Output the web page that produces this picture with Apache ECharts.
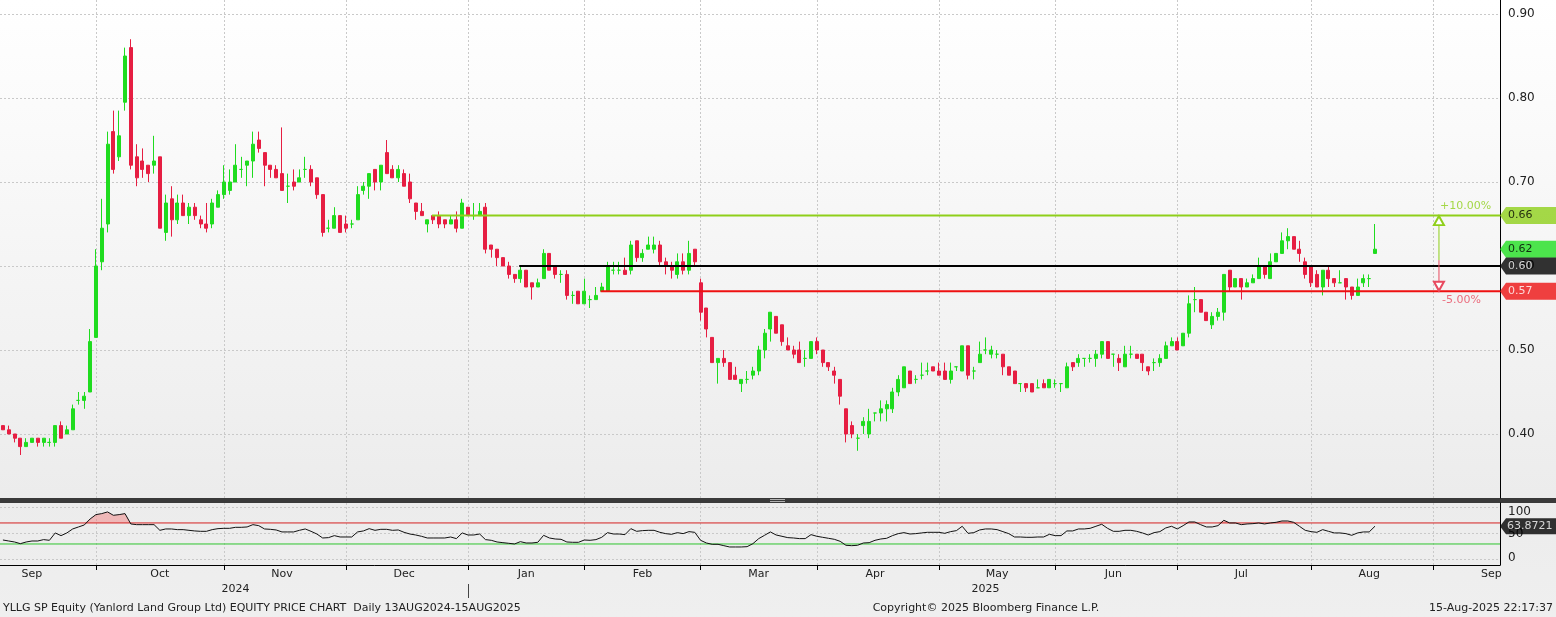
<!DOCTYPE html>
<html>
<head>
<meta charset="utf-8">
<script src="https://cdn.jsdelivr.net/npm/echarts@6/dist/echarts.min.js"></script>
<style>
html, body { margin: 0; padding: 0; }
#chart { width: 1556px; height: 617px; }
</style>
</head>
<body>
<div id="chart"></div>
<script>
// daily candles, one array per month: [open, high, low, close]
const sep24 = [
  [.41,.41,.405,.405],[.405,.41,.40,.40],[.40,.40,.39,.395],[.395,.395,.375,.385],[.385,.395,.385,.39],
  [.39,.395,.39,.395],[.395,.395,.385,.39],[.39,.395,.385,.395],[.39,.395,.385,.39],[.39,.41,.385,.41],
  [.41,.415,.395,.395],[.40,.41,.40,.405],[.405,.435,.405,.43],[.44,.45,.435,.44],[.44,.45,.43,.445],
  [.45,.525,.45,.51],[.515,.62,.515,.60]
];
const oct24 = [
  [.605,.68,.595,.645],[.65,.76,.64,.745],[.76,.785,.71,.715],[.73,.785,.725,.755],[.795,.86,.785,.85],
  [.86,.87,.715,.72],[.73,.745,.695,.705],[.725,.74,.705,.715],[.72,.72,.70,.71],[.72,.755,.71,.725],
  [.73,.73,.645,.645],[.64,.685,.63,.675],[.68,.695,.635,.655],[.655,.685,.65,.675],[.675,.685,.66,.66],
  [.66,.675,.65,.67],[.67,.675,.655,.66],[.655,.66,.645,.65],[.65,.675,.64,.645],[.65,.68,.645,.675],
  [.67,.69,.67,.685],[.685,.72,.68,.70]
];
const nov24 = [
  [.69,.715,.685,.70],[.70,.745,.70,.72],[.715,.73,.705,.715],[.72,.725,.695,.725],[.725,.76,.705,.745],
  [.75,.76,.735,.74],[.735,.735,.695,.72],[.72,.72,.705,.715],[.715,.72,.705,.705],[.71,.765,.69,.69],
  [.695,.71,.675,.695],[.70,.715,.69,.695],[.70,.715,.70,.705],[.715,.73,.705,.715],[.715,.72,.695,.70],
  [.705,.705,.68,.685],[.685,.685,.635,.64],[.645,.655,.64,.645],[.645,.67,.645,.66],[.66,.66,.64,.64],
  [.65,.66,.64,.645]
];
const dec24 = [
  [.65,.655,.645,.65],[.655,.695,.655,.685],[.69,.70,.685,.695],[.695,.71,.68,.71],[.715,.715,.69,.70],
  [.70,.72,.69,.72],[.735,.75,.71,.71],[.715,.72,.705,.705],[.705,.72,.70,.715],[.71,.715,.695,.695],
  [.70,.71,.675,.68],[.675,.675,.655,.665],[.665,.675,.66,.66],[.65,.655,.64,.655],[.66,.66,.65,.655],
  [.66,.665,.645,.65],[.655,.655,.645,.65],[.65,.66,.65,.655],[.655,.665,.64,.645],[.645,.68,.645,.675],
  [.67,.67,.66,.66]
];
const jan25 = [
  [.66,.675,.655,.66],[.66,.675,.66,.665],[.67,.675,.615,.62],[.625,.625,.61,.62],[.62,.62,.60,.61],
  [.61,.61,.60,.60],[.60,.605,.585,.59],[.59,.59,.58,.585],[.585,.60,.58,.595],[.595,.595,.575,.575],
  [.58,.58,.56,.575],[.575,.585,.575,.58],[.585,.62,.585,.615],[.615,.615,.595,.595],[.60,.60,.585,.59],
  [.59,.595,.58,.59],[.59,.595,.56,.565],[.565,.57,.555,.565],[.57,.57,.555,.555],[.555,.585,.555,.57]
];
const feb25 = [
  [.56,.565,.55,.56],[.56,.575,.56,.565],[.57,.58,.57,.575],[.57,.605,.57,.60],[.595,.605,.59,.595],
  [.595,.605,.59,.595],[.595,.61,.59,.59],[.595,.63,.59,.625],[.63,.63,.605,.61],[.61,.62,.605,.615],
  [.62,.635,.62,.625],[.62,.635,.615,.625],[.625,.63,.60,.605],[.605,.61,.59,.60],[.60,.605,.585,.595],
  [.59,.615,.585,.605],[.605,.615,.59,.595],[.595,.63,.59,.615],[.62,.62,.60,.605],[.58,.585,.535,.545]
];
const mar25 = [
  [.55,.55,.515,.525],[.515,.515,.485,.485],[.485,.49,.46,.49],[.49,.50,.48,.485],[.485,.485,.465,.465],
  [.47,.48,.465,.465],[.46,.465,.45,.465],[.465,.475,.46,.465],[.47,.48,.465,.475],[.475,.505,.47,.50],
  [.50,.525,.49,.52],[.525,.545,.51,.545],[.54,.54,.52,.52],[.53,.53,.505,.51],[.505,.515,.50,.50],
  [.50,.505,.49,.495],[.50,.51,.485,.485],[.49,.50,.48,.49],[.49,.51,.49,.51],[.51,.515,.495,.50]
];
const apr25 = [
  [.50,.50,.48,.485],[.485,.485,.475,.48],[.475,.48,.46,.47],[.465,.465,.435,.445],[.43,.43,.39,.40],
  [.41,.415,.395,.40],[.395,.40,.38,.395],[.41,.42,.40,.415],[.40,.43,.395,.415],[.425,.425,.415,.425],
  [.425,.44,.415,.43],[.43,.44,.415,.435],[.43,.455,.425,.45],[.45,.47,.445,.465],[.455,.48,.455,.48],
  [.475,.475,.46,.46],[.465,.47,.46,.465],[.47,.485,.465,.47],[.475,.485,.47,.475],[.48,.48,.475,.475],
  [.475,.485,.47,.47]
];
const may25 = [
  [.475,.485,.465,.465],[.465,.485,.46,.475],[.48,.48,.475,.48],[.475,.505,.475,.505],[.505,.505,.465,.47],
  [.475,.48,.465,.475],[.485,.51,.485,.495],[.50,.515,.495,.50],[.495,.505,.49,.50],[.495,.50,.49,.495],
  [.495,.495,.47,.48],[.48,.48,.47,.47],[.475,.475,.46,.46],[.46,.46,.45,.46],[.46,.46,.45,.455],
  [.46,.46,.45,.45],[.455,.465,.455,.455],[.46,.465,.455,.455],[.455,.465,.455,.465],[.46,.465,.455,.46]
];
const jun25 = [
  [.46,.46,.45,.46],[.455,.485,.455,.48],[.485,.485,.475,.48],[.485,.495,.48,.49],[.49,.49,.48,.49],
  [.49,.495,.485,.49],[.49,.50,.48,.495],[.495,.51,.49,.51],[.51,.51,.49,.49],[.495,.495,.48,.495],
  [.49,.495,.475,.485],[.48,.505,.48,.495],[.495,.505,.49,.495],[.495,.495,.49,.49],[.495,.495,.475,.485],
  [.48,.48,.47,.475],[.485,.49,.475,.485],[.485,.495,.48,.49],[.49,.51,.49,.505],[.505,.515,.505,.51],
  [.51,.515,.50,.50]
];
const jul25 = [
  [.505,.52,.505,.52],[.52,.565,.515,.555],[.56,.575,.545,.56],[.56,.56,.545,.545],[.545,.545,.535,.535],
  [.53,.545,.525,.54],[.54,.55,.535,.545],[.545,.59,.535,.59],[.595,.595,.57,.575],[.575,.585,.575,.585],
  [.585,.585,.56,.575],[.575,.585,.575,.58],[.58,.59,.58,.585],[.585,.61,.585,.60],[.60,.60,.585,.59],
  [.585,.615,.585,.605],[.605,.615,.605,.615],[.615,.64,.615,.63],[.63,.645,.62,.635],[.635,.635,.62,.62],
  [.62,.63,.605,.615],[.605,.61,.585,.59],[.60,.60,.575,.58]
];
const aug25 = [
  [.59,.595,.575,.575],[.575,.595,.565,.595],[.595,.60,.575,.585],[.585,.585,.575,.58],[.58,.595,.58,.58],
  [.585,.585,.56,.575],[.575,.575,.56,.565],[.565,.585,.565,.575],[.58,.59,.575,.585],[.585,.59,.575,.585],
  [.615,.65,.615,.62]
];

// RSI, one value per trading day
const rsiSep24 = [37.6,35.7,33.8,30.6,33.8,35.7,35.7,38.3,37.0,51.0,45.9,51.0,58.6,62.4,66.2,77.6,85.9];
const rsiOct24 = [87.8,91.0,84.6,85.9,87.8,68.1,66.8,66.8,66.8,66.8,56.0,58.6,58.6,57.3,57.3,56.0,54.8,54.1,54.1,57.3,59.2,59.8];
const rsiNov24 = [59.8,61.7,61.7,62.4,66.8,64.9,58.6,57.9,56.7,52.9,52.9,52.9,56.0,58.6,54.1,49.0,41.4,42.1,45.9,43.3,43.3];
const rsiDec24 = [43.3,52.9,54.8,59.2,56.0,57.9,57.9,56.0,56.7,52.2,49.0,47.1,44.6,41.4,41.4,41.4,41.4,43.3,40.2,51.0,47.1];
const rsiJan25 = [47.1,49.0,38.3,37.0,33.8,32.5,31.3,30.0,34.4,31.9,31.9,33.2,46.5,41.4,39.5,38.9,33.8,33.2,33.2,37.6];
const rsiFeb25 = [37.0,38.3,42.7,51.6,49.0,49.0,47.8,59.2,54.1,55.4,56.0,56.0,52.2,49.7,48.4,51.6,49.7,53.5,52.2,37.0];
const rsiMar25 = [31.9,29.4,29.4,26.8,24.3,24.3,24.3,24.9,30.6,40.2,46.5,52.9,47.1,44.6,42.1,41.4,40.2,40.2,47.8,44.6];
const rsiApr25 = [42.7,40.8,38.9,35.1,27.5,26.8,27.5,31.9,32.5,37.0,39.5,40.8,45.9,49.7,51.6,49.0,49.7,51.0,52.2,52.2,52.2];
const rsiMay25 = [50.3,53.5,55.4,63.7,50.3,51.6,56.7,58.6,58.6,57.3,53.5,49.7,43.3,43.3,42.7,42.7,43.3,43.3,48.4,45.9];
const rsiJun25 = [45.9,54.8,54.8,58.6,58.6,59.8,63.7,67.5,59.8,54.1,54.1,56.0,56.0,54.1,51.0,47.1,51.6,53.5,60.5,63.7,58.6];
const rsiJul25 = [64.9,71.9,71.9,66.8,62.4,62.4,64.9,75.1,70.0,70.0,66.8,68.1,68.7,70.0,68.1,70.0,71.3,73.8,73.8,71.3,63.7,56.0,53.5];
const rsiAug25 = [52.2,57.3,54.1,51.0,51.0,49.7,46.5,51.0,52.9,52.9,63.8721];

// drawn levels: value and the day each line starts
const levels = [
  { value: 0.66, from: '2024-12-20', color: '#8fcf1a' },
  { value: 0.60, from: '2025-01-14', color: '#000000' },
  { value: 0.57, from: '2025-02-05', color: '#ee1111' }
];
const lastPrice = 0.62;
const arrowDay = '2025-09-01';
const rsiHigh = 70, rsiLow = 30;

// SGX calendar
const holidays = ['2024-10-31','2024-12-25','2025-01-01','2025-01-29','2025-01-30',
  '2025-03-31','2025-04-18','2025-05-01','2025-05-12'];
const monthNames = ['Jan','Feb','Mar','Apr','May','Jun','Jul','Aug','Sep','Oct','Nov','Dec'];

function tradingDays(from, to) {
  const out = [];
  const d = new Date(from + 'T00:00:00Z');
  const end = new Date(to + 'T00:00:00Z');
  while (d <= end) {
    const s = d.toISOString().slice(0, 10);
    const wd = d.getUTCDay();
    if (wd !== 0 && wd !== 6 && holidays.indexOf(s) < 0) out.push(s);
    d.setUTCDate(d.getUTCDate() + 1);
  }
  return out;
}
const allDays = tradingDays('2024-08-01', '2025-10-31');
const off = allDays.indexOf('2024-09-06');
const dates = allDays.slice(off, allDays.indexOf('2025-09-15') + 1);
const n = dates.length;

// month lines sit on the last trading day of each month
const monthLines = [];
for (let k = 0; k < allDays.length - 1; k++) {
  if (allDays[k].slice(5, 7) !== allDays[k + 1].slice(5, 7)) monthLines.push(k - off);
}
const monthLineSet = new Set(monthLines.filter(i => i >= 0 && i < n));
const monthLabelSet = new Set();
for (let k = 0; k < monthLines.length - 1; k++) {
  const a = monthLines[k], b = monthLines[k + 1];
  if (b <= 0 || a >= n - 1) continue;
  monthLabelSet.add(Math.min(Math.floor((a + b) / 2), n - 2));
}
const yearLineSet = new Set();
const yearLabelSet = new Set();
let ys = 0;
for (let i = 0; i < n; i++) {
  if (i === n - 1 || dates[i].slice(0, 4) !== dates[i + 1].slice(0, 4)) {
    if (i < n - 1) yearLineSet.add(i);
    yearLabelSet.add(Math.floor((ys + i) / 2));
    ys = i + 1;
  }
}

const GREEN = '#1fdc1f', RED = '#e61e42';
const ohlc = [].concat(sep24, oct24, nov24, dec24, jan25, feb25, mar25, apr25, may25, jun25, jul25, aug25);
const candles = ohlc.map(([o, h, l, c]) => [o, c, l, h]);
const rsi = [].concat(rsiSep24, rsiOct24, rsiNov24, rsiDec24, rsiJan25, rsiFeb25, rsiMar25,
  rsiApr25, rsiMay25, rsiJun25, rsiJul25, rsiAug25);

const PMAX = 0.9167, PMIN = 0.3238;
const FONT = 'DejaVu Sans';
const gridLine = { color: '#c9c9c9', type: [2, 2], width: 1 };

const ref = levels[1].value;
const arrowX = dates.indexOf(arrowDay);
const pct = v => ((v / ref - 1) * 100).toFixed(2) + '%';

const tagPath = 'path://M0,8L6,0L56,0L56,16L6,16Z';
function tag(x, y, bg, fg, text) {
  return {
    value: [x, y],
    symbol: tagPath, symbolSize: [56, 17], symbolOffset: ['50%', 0],
    itemStyle: { color: bg },
    label: { show: true, position: 'insideLeft', distance: 8, color: fg, fontSize: 11, fontFamily: FONT, formatter: text }
  };
}

const series = [
  {
    type: 'candlestick', xAxisIndex: 0, yAxisIndex: 0, data: candles, barWidth: 3.5,
    itemStyle: { color: GREEN, color0: RED, borderColor: GREEN, borderColor0: RED, borderColorDoji: GREEN, borderWidth: 1 }
  }
];
levels.forEach(lv => {
  series.push({
    type: 'line', xAxisIndex: 1, yAxisIndex: 0, symbol: 'none', silent: true, z: 3,
    data: [[dates.indexOf(lv.from) - 0.2, lv.value], [n - 0.5, lv.value]],
    lineStyle: { color: lv.color, width: 2 }
  });
});
// arrows from the reference level to +10% / -5%
series.push({
  type: 'line', xAxisIndex: 1, yAxisIndex: 0, silent: true, z: 4, showSymbol: true, symbol: 'none',
  data: [{ value: [arrowX, levels[0].value], symbol: 'emptyTriangle', symbolSize: [10, 9], symbolOffset: [0, 5] },
         [arrowX, 0.607]],
  itemStyle: { color: levels[0].color }, lineStyle: { color: levels[0].color, width: 1 }
});
series.push({
  type: 'line', xAxisIndex: 1, yAxisIndex: 0, silent: true, z: 4, showSymbol: true, symbol: 'none',
  data: [[arrowX, 0.607],
         { value: [arrowX, levels[2].value], symbol: 'emptyTriangle', symbolRotate: 180, symbolSize: [10, 9], symbolOffset: [0, -5] }],
  itemStyle: { color: '#e84a5f' }, lineStyle: { color: '#e84a5f', width: 1 }
});
series.push({
  type: 'scatter', xAxisIndex: 1, yAxisIndex: 0, silent: true, symbolSize: 0, clip: false, z: 5,
  data: [
    { value: [arrowX, levels[0].value], label: { show: true, position: [1, -15], color: levels[0].color, formatter: '+' + pct(levels[0].value) } },
    { value: [arrowX, levels[2].value], label: { show: true, position: [3, 3], color: '#e84a5f', formatter: pct(levels[2].value) } }
  ],
  label: { fontSize: 11, fontFamily: FONT }
});
series.push({
  type: 'scatter', xAxisIndex: 1, yAxisIndex: 0, silent: true, clip: false, z: 10,
  data: [
    tag(n - 0.5, levels[0].value, '#8fcf1a', '#000', levels[0].value.toFixed(2)),
    tag(n - 0.5, lastPrice, '#22e022', '#000', lastPrice.toFixed(2)),
    tag(n - 0.5, levels[1].value, '#000', '#fff', levels[1].value.toFixed(2)),
    tag(n - 0.5, levels[2].value, '#ee1111', '#fff', levels[2].value.toFixed(2))
  ]
});
// RSI panel
series.push({
  type: 'line', xAxisIndex: 2, yAxisIndex: 1, symbol: 'none', silent: true,
  data: rsi.map(v => Math.max(v, rsiHigh)),
  lineStyle: { color: 'rgba(0,0,0,0)', opacity: 0 },
  areaStyle: { origin: rsiHigh, color: 'rgba(240,128,128,0.7)' }
});
[[rsiHigh, '#d42020'], [rsiLow, '#2ec42e']].forEach(([v, c]) => {
  series.push({
    type: 'line', xAxisIndex: 4, yAxisIndex: 1, symbol: 'none', silent: true, z: 3,
    data: [[-0.5, v], [n - 0.5, v]], lineStyle: { color: c, width: 1 }
  });
});
series.push({
  type: 'line', xAxisIndex: 2, yAxisIndex: 1, symbol: 'none', silent: true, z: 4,
  data: rsi, lineStyle: { color: '#111', width: 1 }
});
series.push({
  type: 'scatter', xAxisIndex: 4, yAxisIndex: 1, silent: true, clip: false, z: 10,
  data: [{
    value: [n - 0.5, rsi[rsi.length - 1]],
    symbol: tagPath, symbolSize: [56, 16], symbolOffset: ['50%', 0],
    itemStyle: { color: '#000' },
    label: { show: true, position: 'insideLeft', distance: 7, color: '#fff', fontSize: 11, fontFamily: FONT,
      formatter: rsi[rsi.length - 1].toFixed(4) }
  }]
});

const noZero = { onZero: false };
const option = {
  animation: false,
  backgroundColor: {
    type: 'linear', x: 0, y: 0, x2: 0, y2: 1,
    colorStops: [{ offset: 0, color: '#ffffff' }, { offset: 0.8, color: '#ececec' }, { offset: 1, color: '#efefef' }]
  },
  textStyle: { fontFamily: FONT },
  grid: [
    { left: 0, top: 0, width: 1500, height: 498, outerBoundsMode: 'none' },
    { left: 0, top: 503, width: 1500, height: 62, outerBoundsMode: 'none' }
  ],
  xAxis: [
    {
      type: 'category', gridIndex: 0, position: 'bottom', data: dates, boundaryGap: true,
      axisLine: { show: false, onZero: false }, axisTick: { show: false }, axisLabel: { show: false },
      splitLine: { show: true, alignWithLabel: true, interval: i => monthLineSet.has(i), lineStyle: gridLine }
    },
    { type: 'value', gridIndex: 0, position: 'bottom', min: -0.5, max: n - 0.5, show: false, axisLine: noZero },
    {
      type: 'category', gridIndex: 1, position: 'bottom', data: dates, boundaryGap: true,
      axisLine: { onZero: false, lineStyle: { color: '#000', width: 1 } },
      axisTick: { show: true, alignWithLabel: true, interval: i => monthLineSet.has(i), length: 5, lineStyle: { color: '#000' } },
      axisLabel: {
        interval: i => monthLabelSet.has(i), margin: 4, color: '#222', fontSize: 11, fontFamily: FONT,
        formatter: v => monthNames[+v.slice(5, 7) - 1]
      },
      splitLine: { show: true, alignWithLabel: true, interval: i => monthLineSet.has(i), lineStyle: gridLine }
    },
    {
      type: 'category', gridIndex: 1, position: 'bottom', data: dates, boundaryGap: true, offset: 19,
      axisLine: { show: true, onZero: false, lineStyle: { color: 'rgba(0,0,0,0)', width: 0 } },
      axisTick: { show: true, alignWithLabel: true, interval: i => yearLineSet.has(i), length: 14, lineStyle: { color: '#444', width: 1 } },
      axisLabel: {
        interval: i => yearLabelSet.has(i), margin: 0, color: '#222', fontSize: 11, fontFamily: FONT,
        formatter: v => v.slice(0, 4)
      }
    },
    { type: 'value', gridIndex: 1, position: 'bottom', min: -0.5, max: n - 0.5, show: false, axisLine: noZero }
  ],
  yAxis: [
    {
      type: 'value', gridIndex: 0, position: 'right', min: PMIN, max: PMAX, splitNumber: 6,
      axisLine: { show: true, onZero: false, lineStyle: { color: '#000' } }, axisTick: { show: false },
      axisLabel: { showMinLabel: false, showMaxLabel: false, margin: 8, color: '#222', fontSize: 12, fontFamily: FONT,
        formatter: v => v.toFixed(2) },
      splitLine: { show: true, showMinLine: false, showMaxLine: false, lineStyle: gridLine }
    },
    {
      type: 'value', gridIndex: 1, position: 'right', min: -10, max: 108, splitNumber: 2,
      axisLine: { show: true, onZero: false, lineStyle: { color: '#000' } }, axisTick: { show: false },
      axisLabel: {
        showMinLabel: false, showMaxLabel: false, margin: 8, color: '#222', fontSize: 12, fontFamily: FONT,
        formatter: v => v === 100 ? '{dn|100}' : v === 0 ? '{up|0}' : String(v),
        rich: { dn: { padding: [10, 0, 0, 0], fontSize: 12 }, up: { padding: [0, 0, 4, 0], fontSize: 12 } }
      },
      splitLine: { show: true, showMinLine: false, showMaxLine: false, lineStyle: gridLine }
    }
  ],
  graphic: [
    { type: 'rect', silent: true, shape: { x: 0, y: 498, width: 1556, height: 5 }, style: { fill: '#3a3a3a' } },
    { type: 'rect', silent: true, shape: { x: 770, y: 499, width: 15, height: 1 }, style: { fill: '#b0b0b0' } },
    { type: 'rect', silent: true, shape: { x: 770, y: 501, width: 15, height: 1 }, style: { fill: '#b0b0b0' } },
    { type: 'text', silent: true, x: 3, y: 608, style: { text: 'YLLG SP Equity (Yanlord Land Group Ltd) EQUITY PRICE CHART  Daily 13AUG2024-15AUG2025',
      font: '11px "DejaVu Sans"', fill: '#222', verticalAlign: 'middle' } },
    { type: 'text', silent: true, x: 986, y: 608, style: { text: 'Copyright\u00a9 2025 Bloomberg Finance L.P.',
      font: '11px "DejaVu Sans"', fill: '#222', align: 'center', verticalAlign: 'middle' } },
    { type: 'text', silent: true, x: 1553, y: 608, style: { text: '15-Aug-2025 22:17:37',
      font: '11px "DejaVu Sans"', fill: '#222', align: 'right', verticalAlign: 'middle' } }
  ],
  series: series
};

const chart = echarts.init(document.getElementById('chart'));
chart.setOption(option);
</script>
</body>
</html>
